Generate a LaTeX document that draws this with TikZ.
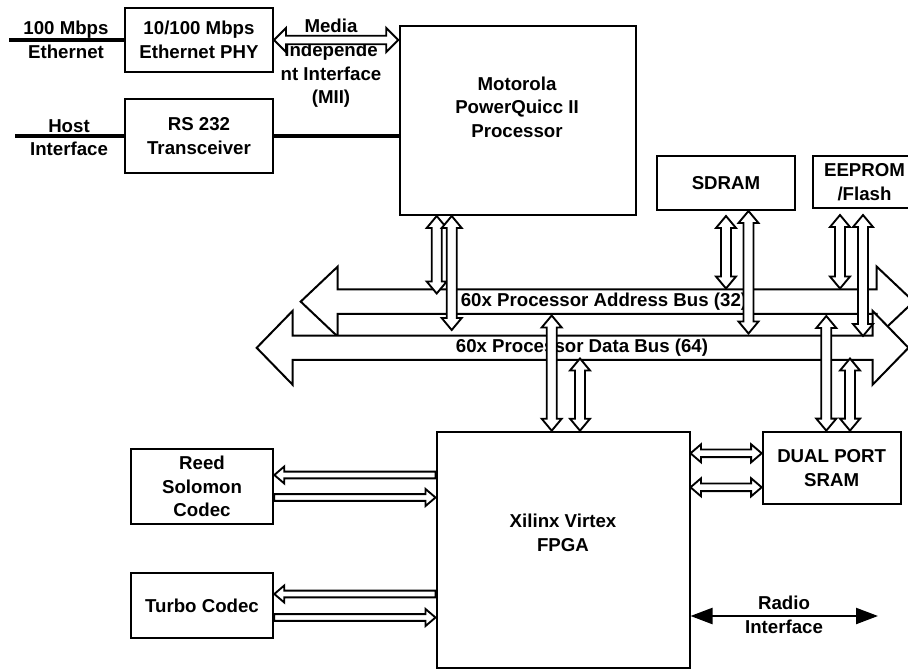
\documentclass[tikz,border=0pt]{standalone}
\usepackage{fontspec}
\setmainfont{Liberation Sans}
\usetikzlibrary{calc,arrows.meta}
\begin{document}
\begin{tikzpicture}[x=0.75pt,y=-0.75pt,
  every node/.style={font=\fontsize{14}{17.7}\selectfont\bfseries, align=center, inner sep=0pt},
  blk/.style 2 args={draw, line width=1.5pt, fill=white, minimum width=#1*0.75pt, minimum height=#2*0.75pt},
  heavy/.style={line width=3pt},
  fatboth/.style n args={3}{fill=white, draw=black, line width=1.4pt, line join=miter, to path={
    -- ($(\tikztostart)!#3!(\tikztotarget)!#2!90:(\tikztotarget)$)
    -- ($(\tikztostart)!#3!(\tikztotarget)!#1!90:(\tikztotarget)$)
    -- ($(\tikztotarget)!#3!(\tikztostart)!#1!90:(\tikztotarget)$)
    -- ($(\tikztotarget)!#3!(\tikztostart)!#2!90:(\tikztotarget)$)
    -- (\tikztotarget)
    -- ($(\tikztotarget)!#3!(\tikztostart)!#2!-90:(\tikztotarget)$)
    -- ($(\tikztotarget)!#3!(\tikztostart)!#1!-90:(\tikztotarget)$)
    -- ($(\tikztostart)!#3!(\tikztotarget)!#1!-90:(\tikztotarget)$)
    -- ($(\tikztostart)!#3!(\tikztotarget)!#2!-90:(\tikztotarget)$)
    -- cycle}},
  fatone/.style n args={3}{fill=white, draw=black, line width=1.4pt, line join=miter, to path={
    ($(\tikztostart)!#1!90:(\tikztotarget)$)
    -- ($(\tikztotarget)!#3!(\tikztostart)!#1!90:(\tikztotarget)$)
    -- ($(\tikztotarget)!#3!(\tikztostart)!#2!90:(\tikztotarget)$)
    -- (\tikztotarget)
    -- ($(\tikztotarget)!#3!(\tikztostart)!#2!-90:(\tikztotarget)$)
    -- ($(\tikztotarget)!#3!(\tikztostart)!#1!-90:(\tikztotarget)$)
    -- ($(\tikztostart)!#1!-90:(\tikztotarget)$)
    -- cycle}},
  vbi/.style={fatboth={3.75pt}{7.5pt}{9pt}},
  hbi/.style={fatboth={2.85pt}{6.75pt}{7.9pt}},
  hone/.style={fatone={2.55pt}{6.4pt}{7.5pt}},
  busarrow/.style={line width=1.5pt}
]
\fill[white] (0,0) rectangle (908,671);
\useasboundingbox (0,0) rectangle (908,671);

% ---------- blocks ----------
\node[blk={148}{64}] (phy) at (199,40) {10/100 Mbps\\Ethernet PHY};
\node[blk={148}{74}] (rs) at (199,136) {RS 232\\Transceiver};
\node[blk={236}{189}] (proc) at (518,120.5) {};
\node (proctext) at (517,107) {Motorola\\PowerQuicc II\\Processor};
\node[blk={138}{54}] (sdram) at (726,183) {SDRAM};
\node[blk={104}{52}] (eeprom) at (864.5,182) {EEPROM\\/Flash};
\node[blk={253}{236.6}] (fpga) at (563,550) {};
\node (fpgatext) at (563,533) {Xilinx Virtex\\FPGA};
\node[blk={138}{72.3}] (sram) at (831.7,467.8) {DUAL PORT\\SRAM};
\node[blk={142.6}{74.7}] (reed) at (202,486.7) {Reed\\Solomon\\Codec};
\node[blk={142.6}{65}] (turbo) at (202,605.8) {Turbo Codec};

% ---------- outer labels and plain lines ----------
\node (ethlbl) at (66,40) {100 Mbps\\Ethernet};
\node (hostlbl) at (69,137.5) {Host\\Interface};
\coordinate (ethend) at (9,40);
\coordinate (hostend) at (15,136);
\draw[heavy] (ethend) -- (phy.west);
\draw[heavy] (hostend) -- (rs.west);
\draw[heavy] (rs.east) -- (proc.west |- rs.east);

% ---------- MII ----------
\node (miilbl) at (331,63.5) {Media\\Independe\\nt Interface\\(MII)};
\coordinate (miiend) at (398.3,40);
\draw[fatboth={3.2pt}{9pt}{9pt}] (phy.east) to (miiend);

% ---------- buses ----------
\coordinate (abL) at (300.7,301.6);
\coordinate (abR) at (913.7,301.6);
\coordinate (dbL) at (256.7,347.8);
\coordinate (dbR) at (908.5,347.8);
\draw[fatboth={9.2pt}{26.25pt}{27.75pt}, busarrow] (abL) to (abR);
\draw[fatboth={9.1pt}{27.75pt}{27pt}, busarrow] (dbL) to (dbR);
\node (ablbl) at (604,302) {60x Processor Address Bus (32)};
\node (dblbl) at (582,347.5) {60x Processor Data Bus (64)};

% ---------- vertical bus connectors ----------
\coordinate (pa1) at (436.7,293.5);
\coordinate (pa2) at (451.7,330);
\draw[vbi] (proc.south -| pa1) to (pa1);
\draw[vbi] (proc.south -| pa2) to (pa2);

\coordinate (sd1t) at ($(sdram.south -| 726,0)+(0,5)$);
\coordinate (sd1) at (726,288.5);
\coordinate (sd2) at (748.5,333.5);
\draw[vbi] (sd1t) to (sd1);
\draw[vbi] (sdram.south -| sd2) to (sd2);

\coordinate (ee1t) at ($(eeprom.south -| 840,0)+(0,6)$);
\coordinate (ee2t) at ($(eeprom.south -| 863,0)+(0,6)$);
\coordinate (ee1) at (840,288.5);
\coordinate (ee2) at (863,336);
\draw[vbi] (ee1t) to (ee1);
\draw[vbi] (ee2t) to (ee2);

\coordinate (sr1) at (826.3,316);
\coordinate (sr2) at (850,358.5);
\draw[vbi] (sr1) to (sram.north -| sr1);
\draw[vbi] (sr2) to (sram.north -| sr2);

\coordinate (fp1) at (551.7,315.5);
\coordinate (fp2) at (580,358.5);
\draw[vbi] (fp1) to (fpga.north -| fp1);
\draw[vbi] (fp2) to (fpga.north -| fp2);

% ---------- FPGA side links ----------
\draw[hbi] (fpga.east |- 0,453.3) to (sram.west |- 0,453.3);
\draw[hbi] (fpga.east |- 0,487.3) to (sram.west |- 0,487.3);

\draw[hone] (fpga.west |- 0,475) to (reed.east |- 0,475);
\draw[hone] (reed.east |- 0,497.5) to (fpga.west |- 0,497.5);
\draw[hone] (fpga.west |- 0,594) to (turbo.east |- 0,594);
\draw[hone] (turbo.east |- 0,617.5) to (fpga.west |- 0,617.5);

% ---------- radio ----------
\node (radiolbl) at (784,615) {Radio\\Interface};
\coordinate (radioend) at (878,616);
\draw[line width=1.7pt, {Triangle[length=16.5pt,width=12pt]}-{Triangle[length=16.5pt,width=12pt]}] (fpga.east |- radioend) -- (radioend);
\end{tikzpicture}
\end{document}
